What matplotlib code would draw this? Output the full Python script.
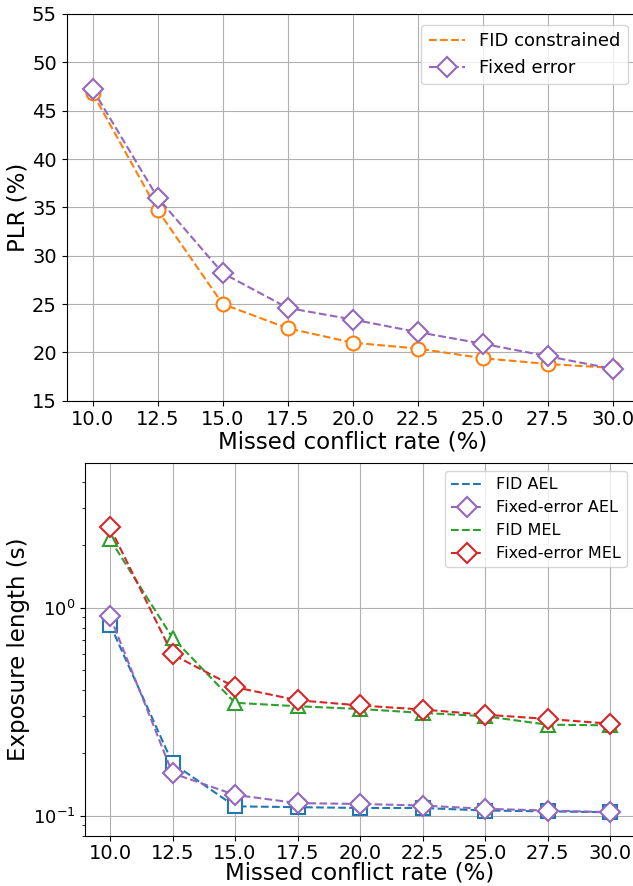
import numpy as np
import matplotlib
matplotlib.use('Agg')
import matplotlib.pyplot as plt

# missed conflict rate (%)
rate = [10.0, 12.5, 15.0, 17.5, 20.0, 22.5, 25.0, 27.5, 30.0]

# PLR (%)
plr_fid = [46.8, 34.7, 25.0, 22.5, 21.0, 20.4, 19.4, 18.8, 18.4]
plr_fixed = [47.2, 36.0, 28.2, 24.6, 23.4, 22.1, 20.9, 19.6, 18.3]

# exposure length (s)
ael_fid = [0.83, 0.179, 0.111, 0.110, 0.109, 0.109, 0.106, 0.105, 0.104]
ael_fixed = [0.91, 0.160, 0.126, 0.115, 0.114, 0.112, 0.108, 0.106, 0.104]
mel_fid = [2.13, 0.717, 0.349, 0.336, 0.326, 0.312, 0.301, 0.274, 0.272]
mel_fixed = [2.43, 0.596, 0.415, 0.359, 0.339, 0.324, 0.306, 0.292, 0.277]

fig = plt.figure(figsize=(6.33, 8.86), dpi=100)
ax = fig.add_axes([0.1054, 0.5477, 0.9036, 0.4365])
ay = fig.add_axes([0.1343, 0.0565, 0.8689, 0.4212])

ms = 10
mew = 1.5

# top panel
ax.plot(rate, plr_fid, '--', color='C1', label='FID constrained')
ax.plot(rate, plr_fid, 'o', color='C1', mfc='white', ms=ms, mew=mew)
ax.plot(rate, plr_fixed, '--', color='C4', marker='D', mfc='white', ms=ms, mew=mew,
        label='Fixed error')
ax.set_xlim(9, 31)
ax.set_ylim(15, 55)
ax.set_xticks(rate)
ax.set_xticklabels(["{:.1f}".format(r) for r in rate])
ax.set_xlabel('Missed conflict rate (%)', fontsize=16.5, labelpad=1)
ax.set_ylabel('PLR (%)', fontsize=16.5, labelpad=2)
ax.tick_params(labelsize=14)
ax.grid(True)
ax.legend(loc='upper right', fontsize=13, borderaxespad=0.6)

# bottom panel
ay.plot(rate, ael_fid, '--', color='C0', label='FID AEL')
ay.plot(rate, ael_fid, 's', color='C0', mfc='white', ms=ms, mew=mew)
ay.plot(rate, ael_fixed, '--', color='C4', marker='D', mfc='white', ms=ms, mew=mew,
        label='Fixed-error AEL')
ay.plot(rate, mel_fid, '--', color='C2', label='FID MEL')
ay.plot(rate, mel_fid, '^', color='C2', mfc='white', ms=ms, mew=mew)
ay.plot(rate, mel_fixed, '--', color='C3', marker='D', mfc='white', ms=ms, mew=mew,
        label='Fixed-error MEL')
ay.set_yscale('log')
ay.set_xlim(9, 31)
ay.set_ylim(0.080, 4.97)
ay.set_xticks(rate)
ay.set_xticklabels(["{:.1f}".format(r) for r in rate])
ay.set_xlabel('Missed conflict rate (%)', fontsize=16.5, labelpad=-1)
ay.set_ylabel('Exposure length (s)', fontsize=16.5, labelpad=2)
ay.tick_params(axis='x', labelsize=14, pad=2.5)
ay.tick_params(axis='y', labelsize=13)
ay.grid(True)
ay.legend(loc='upper right', fontsize=11.5)

fig.savefig('out.png', dpi=100)
